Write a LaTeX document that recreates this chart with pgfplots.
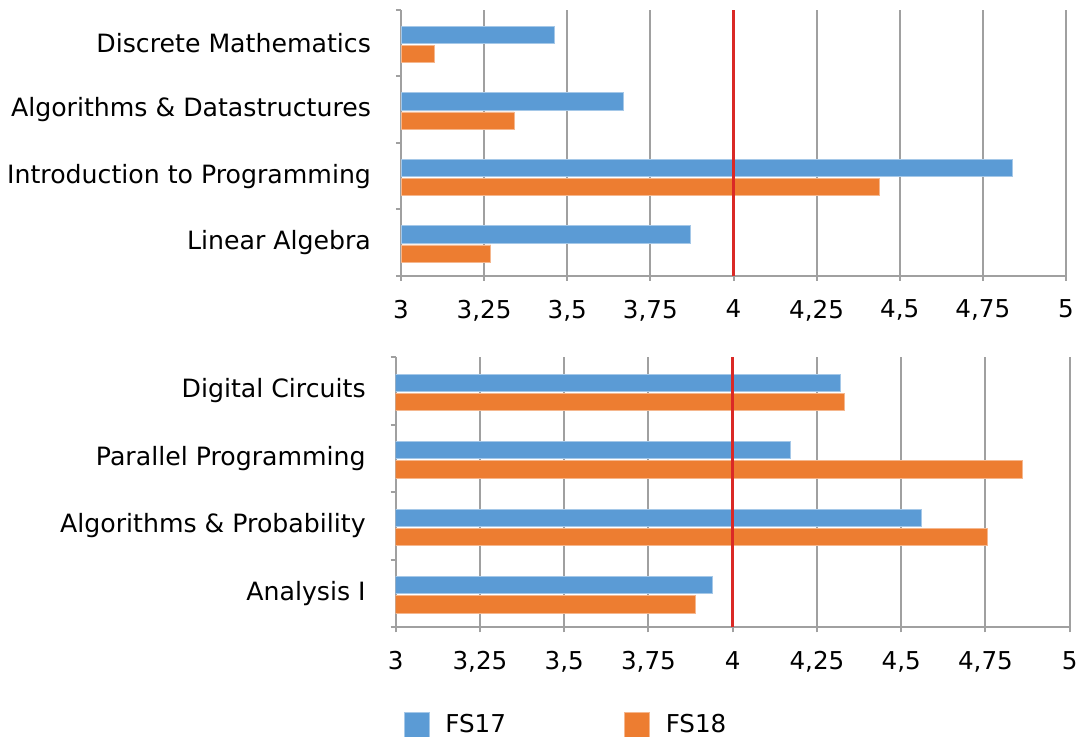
\documentclass[border=0pt]{standalone}
\usepackage{fontspec}
\setmainfont{DejaVu Sans}
\usepackage{pgfplots}
\pgfplotsset{compat=1.18}

\definecolor{fsblue}{RGB}{91,155,213}
\definecolor{fsorange}{RGB}{237,125,49}
\definecolor{gridgray}{RGB}{160,160,160}
\definecolor{refred}{RGB}{218,41,38}

% shared look of both panels
\pgfplotsset{
  panel/.style={
    scale only axis,
    xmin=3, xmax=5, ymin=-0.5, ymax=3.5,
    axis x line*=bottom, axis y line*=left,
    axis line style={gridgray, line width=1pt},
    tick align=outside,
    major tick length=2.5pt,
    tick style={gridgray, line width=1pt},
    xtick={3,3.25,3.5,3.75,4,4.25,4.5,4.75,5},
    xticklabels={3,{3,25},{3,5},{3,75},4,{4,25},{4,5},{4,75},5},
    xmajorgrids,
    major grid style={gridgray, line width=1pt},
    ytick={-0.5,0.5,1.5,2.5,3.5},
    yticklabels={},
    extra y ticks={0,1,2,3},
    extra y tick style={major tick length=0pt},
    xticklabel style={font=\fontsize{12.3}{14}\selectfont, yshift=-6pt},
    yticklabel style={font=\fontsize{12.6}{14}\selectfont, anchor=east, xshift=-11.5pt},
  },
  fs17/.style={xbar, bar width=8.6pt, bar shift=4.2pt, fill=fsblue, draw=fsblue!55!white, line width=0.4pt},
  fs18/.style={xbar, bar width=8.6pt, bar shift=-5.4pt, fill=fsorange, draw=fsorange!55!white, line width=0.4pt},
}

\begin{document}
\begin{tikzpicture}
\path[use as bounding box] (0,0) rectangle (538pt,368.5pt);

% first-semester courses
\begin{axis}[panel, at={(200.5pt,230.5pt)}, anchor=south west,
  width=332.5pt, height=133pt,
  extra y tick labels={Linear Algebra, Introduction to Programming, Algorithms \& Datastructures, Discrete Mathematics},
]
\addplot[fs17] coordinates {(3.87,0) (4.84,1) (3.67,2) (3.46,3)};
\addplot[fs18] coordinates {(3.27,0) (4.44,1) (3.34,2) (3.10,3)};
\addplot[refred, line width=1.5pt, no marks] coordinates {(4,-0.5) (4,3.5)};
\end{axis}

% second-semester courses
\begin{axis}[panel, at={(197.85pt,54.85pt)}, anchor=south west,
  width=337pt, height=135pt,
  extra y tick labels={Analysis I, Algorithms \& Probability, Parallel Programming, Digital Circuits},
  legend columns=2,
  legend style={draw=none, at={(0.011,-0.36)}, anchor=west, inner sep=0pt,
    font=\fontsize{12.3}{14}\selectfont,
    /tikz/every even column/.append style={column sep=57pt},
    /tikz/every odd column/.append style={column sep=6pt}},
  legend image code/.code={\fill[#1] (0pt,-6.25pt) rectangle (12.5pt,6.25pt);},
]
\addplot[fs17] coordinates {(3.94,0) (4.56,1) (4.17,2) (4.32,3)};
\addlegendentry{FS17}
\addplot[fs18] coordinates {(3.89,0) (4.755,1) (4.86,2) (4.33,3)};
\addlegendentry{FS18}
\addplot[refred, line width=1.5pt, no marks, forget plot] coordinates {(4,-0.5) (4,3.5)};
\end{axis}
\end{tikzpicture}
\end{document}
